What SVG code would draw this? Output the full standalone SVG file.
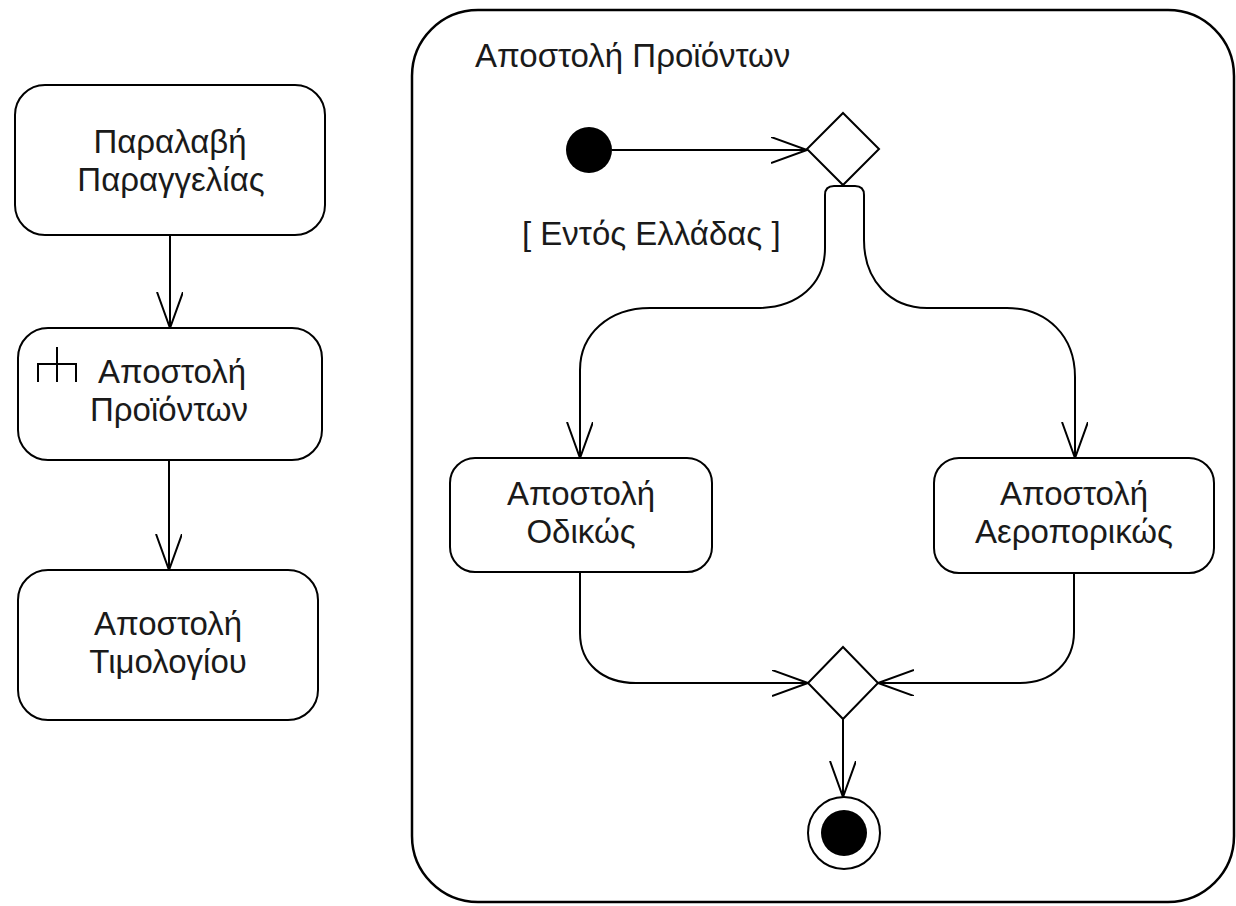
<svg xmlns="http://www.w3.org/2000/svg" width="1236" height="906" viewBox="0 0 1236 906">
  <style>
    .box { fill: #fff; stroke: #000; stroke-width: 2; }
    .frame { fill: none; stroke: #000; stroke-width: 2.5; }
    .edge { fill: none; stroke: #000; stroke-width: 2; }
    .lbl { font-family: "Liberation Sans", Arial, sans-serif; font-size: 33px; fill: #1a1a1a; }
    .c { text-anchor: middle; }
    .icon { fill: none; stroke: #000; stroke-width: 2; }
  </style>
  <defs>
    <marker id="arrow" markerUnits="userSpaceOnUse" markerWidth="40" markerHeight="30" refX="36" refY="13" orient="auto">
      <path d="M0,0 L36,13 L0,26" fill="none" stroke="#000" stroke-width="2"/>
    </marker>
  </defs>
  <rect width="1236" height="906" fill="#fff"/>

  <!-- activity frame: Αποστολή Προϊόντων -->
  <g id="frame">
    <rect class="frame" x="412" y="10" width="822" height="892" rx="66" ry="66"/>
    <text class="lbl" x="475" y="67">Αποστολή Προϊόντων</text>
  </g>

  <!-- connectors -->
  <g id="edges">
    <path class="edge" d="M170 235 V328" marker-end="url(#arrow)"/>
    <path class="edge" d="M169 460 V570" marker-end="url(#arrow)"/>
    <path class="edge" d="M612 150 H807" marker-end="url(#arrow)"/>
    <path class="edge" d="M843 186 H834 Q825 186 825 195 V248 C825 284 798 308 757 308 H650 C609 308 580 334 580 370 V458" marker-end="url(#arrow)"/>
    <path class="edge" d="M843 186 H855 Q864 186 864 195 V240 C864 280 890 308 927 308 H1007 C1047 308 1075 336 1075 377 V458" marker-end="url(#arrow)"/>
    <path class="edge" d="M580 572 V633 C580 664 603 683 636 683 H808" marker-end="url(#arrow)"/>
    <path class="edge" d="M1074 573 V632 C1074 662 1052 683 1020 683 H878" marker-end="url(#arrow)"/>
    <path class="edge" d="M843 719 V797" marker-end="url(#arrow)"/>
  </g>

  <g id="receive-order">
    <rect class="box" x="15" y="85" width="310" height="150" rx="30" ry="30"/>
    <text class="lbl c" x="170" y="153">Παραλαβή</text>
    <text class="lbl c" x="171" y="191">Παραγγελίας</text>
  </g>

  <g id="ship-products">
    <rect class="box" x="18" y="328" width="304" height="132" rx="30" ry="30"/>
    <path class="icon" d="M38 382 V364 H76 V382 M57 347 V382"/>
    <text class="lbl c" x="172" y="383">Αποστολή</text>
    <text class="lbl c" x="169" y="421">Προϊόντων</text>
  </g>

  <g id="send-invoice">
    <rect class="box" x="18" y="570" width="300" height="150" rx="30" ry="30"/>
    <text class="lbl c" x="168" y="635">Αποστολή</text>
    <text class="lbl c" x="168" y="673">Τιμολογίου</text>
  </g>

  <g id="initial">
    <circle cx="589" cy="150" r="23" fill="#000"/>
  </g>

  <g id="decision">
    <polygon class="box" points="843,113 879,149 843,185 807,149"/>
  </g>

  <g id="guard">
    <text class="lbl" x="522" y="245">[ Εντός Ελλάδας ]</text>
  </g>

  <g id="ship-road">
    <rect class="box" x="450" y="458" width="262" height="114" rx="25" ry="25"/>
    <text class="lbl c" x="581" y="505">Αποστολή</text>
    <text class="lbl c" x="581" y="543">Οδικώς</text>
  </g>

  <g id="ship-air">
    <rect class="box" x="934" y="458" width="280" height="115" rx="25" ry="25"/>
    <text class="lbl c" x="1074" y="505">Αποστολή</text>
    <text class="lbl c" x="1074" y="543">Αεροπορικώς</text>
  </g>

  <g id="merge">
    <polygon class="box" points="843,647 878,683 843,719 808,683"/>
  </g>

  <g id="final">
    <circle cx="844" cy="833" r="36" fill="#fff" stroke="#000" stroke-width="2"/>
    <circle cx="844" cy="833" r="23" fill="#000"/>
  </g>
</svg>
